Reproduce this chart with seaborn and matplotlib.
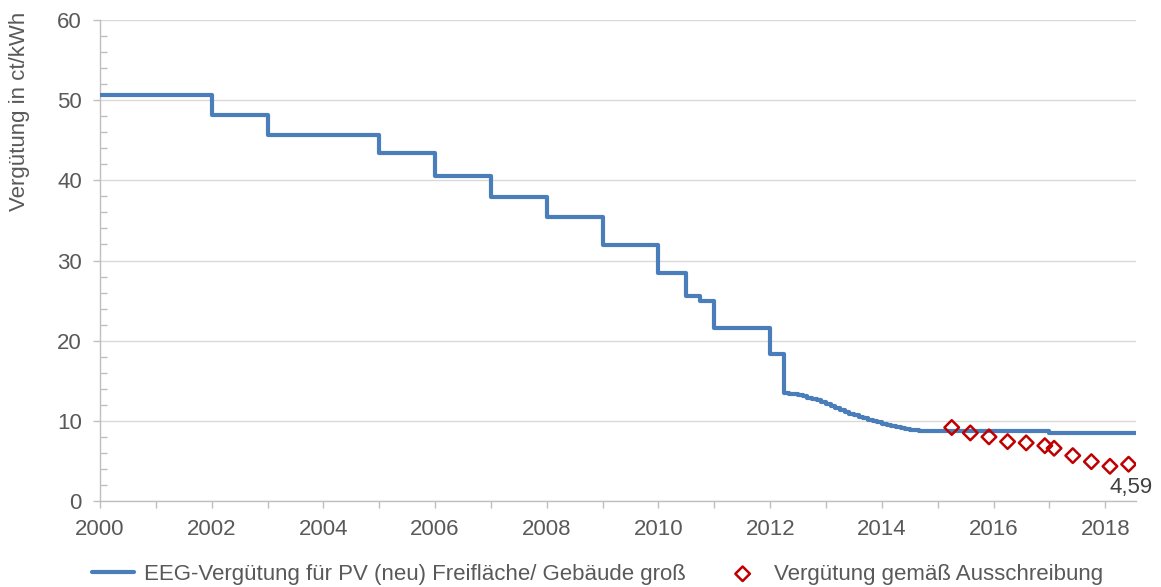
import numpy as np
import pandas as pd
import matplotlib
matplotlib.use("Agg")
import matplotlib.pyplot as plt
import seaborn as sns
from matplotlib.ticker import MultipleLocator

# EEG-Vergütung (Stufenfunktion): Beginn des Zeitraums (Dezimaljahr) und Wert in ct/kWh
eeg_start = [2000.0, 2002.0, 2003.0, 2005.0, 2006.0, 2007.0, 2008.0, 2009.0,
             2010.0, 2010.5, 2010.75, 2011.0, 2012.0, 2012.25,
             2012.333, 2012.417, 2012.5, 2012.583, 2012.667, 2012.75, 2012.833, 2012.917,
             2013.0, 2013.083, 2013.167, 2013.25, 2013.333, 2013.417, 2013.5, 2013.583,
             2013.667, 2013.75, 2013.833, 2013.917, 2014.0, 2014.083, 2014.167, 2014.25,
             2014.333, 2014.417, 2014.5, 2014.583, 2014.667, 2017.0, 2018.55]
eeg_value = [50.62, 48.09, 45.70, 43.42, 40.60, 37.96, 35.49, 31.94,
             28.43, 25.60, 24.90, 21.60, 18.40, 13.50,
             13.40, 13.30, 13.20, 13.10, 12.90, 12.75, 12.55, 12.35,
             12.10, 11.85, 11.60, 11.35, 11.10, 10.90, 10.70, 10.50,
             10.30, 10.10, 9.95, 9.80, 9.65, 9.50, 9.35, 9.20,
             9.10, 9.00, 8.90, 8.80, 8.70, 8.50, 8.50]

# Ausschreibungsrunden Freiflächen-PV
auction_date = [2015.25, 2015.583, 2015.917, 2016.25, 2016.583, 2016.917,
                2017.083, 2017.417, 2017.75, 2018.083, 2018.417]
auction_value = [9.17, 8.49, 8.00, 7.41, 7.25, 6.90, 6.58, 5.66, 4.91, 4.33, 4.59]

label_eeg = "EEG-Vergütung für PV (neu) Freifläche/ Gebäude groß"
label_auction = "Vergütung gemäß Ausschreibung"

blue = "#4a7ebb"
red = "#c00000"
gray_text = "#595959"
gray_line = "#bfbfbf"
fs = 16

sns.set_theme(style="white")
plt.rcParams["font.family"] = ["Liberation Sans", "DejaVu Sans"]

fig = plt.figure(figsize=(11.61, 5.87), dpi=100)
ax = fig.add_axes([0.0861, 0.1465, 0.8924, 0.8194])

df_eeg = pd.DataFrame({"jahr": eeg_start, "wert": eeg_value})
df_auc = pd.DataFrame({"jahr": auction_date, "wert": auction_value})

sns.lineplot(data=df_eeg, x="jahr", y="wert", ax=ax, color=blue, linewidth=3,
             drawstyle="steps-post", estimator=None, sort=False, label=label_eeg,
             legend=False, zorder=3)
sns.scatterplot(data=df_auc, x="jahr", y="wert", ax=ax, marker="D", s=55,
                facecolor="none", edgecolor=red, linewidth=1.8, label=label_auction,
                legend=False, zorder=4)

# Wert der letzten Ausschreibung beschriften
ax.annotate(f"{auction_value[-1]:.2f}".replace(".", ","),
            xy=(auction_date[-1], auction_value[-1]), xytext=(2, -9),
            textcoords="offset points", ha="center", va="top",
            fontsize=fs, color="#404040")

ax.set_xlim(2000, 2018.55)
ax.set_ylim(0, 60)
ax.xaxis.set_major_locator(MultipleLocator(2))
ax.xaxis.set_minor_locator(MultipleLocator(1))
ax.yaxis.set_major_locator(MultipleLocator(10))
ax.yaxis.set_minor_locator(MultipleLocator(2))
ax.xaxis.set_major_formatter(matplotlib.ticker.FuncFormatter(lambda v, p: f"{int(round(v))}"))

ax.grid(axis="y", which="major", color="#d9d9d9", linewidth=1)
ax.set_axisbelow(True)
for side in ["top", "right"]:
    ax.spines[side].set_visible(False)
for side in ["left", "bottom"]:
    ax.spines[side].set_color(gray_line)
    ax.spines[side].set_linewidth(1)

ax.tick_params(axis="both", which="major", labelsize=fs, labelcolor=gray_text,
               color=gray_line, length=5, width=1)
ax.tick_params(axis="x", which="minor", direction="out", color=gray_line, length=5, width=1)
ax.tick_params(axis="x", which="major", direction="out", pad=8)
ax.tick_params(axis="y", which="major", direction="out", pad=8)
ax.tick_params(axis="y", which="minor", direction="in", color=gray_line, length=5, width=1)
ax.tick_params(left=True, bottom=True, which="both")

ax.set_xlabel("")
ax.set_ylabel("")
fig.text(20 / 1161, 1 - 12 / 587, "Vergütung in ct/kWh", rotation=90, ha="center",
         va="top", fontsize=fs, color=gray_text)

handles, labels = ax.get_legend_handles_labels()
fig.legend(handles, labels, loc="lower left", bbox_to_anchor=(0.062, -0.03), ncol=2,
           frameon=False, fontsize=fs, labelcolor=gray_text, handlelength=1.9,
           columnspacing=1.6, handletextpad=0.45)

fig.savefig("out.png", dpi=100)
